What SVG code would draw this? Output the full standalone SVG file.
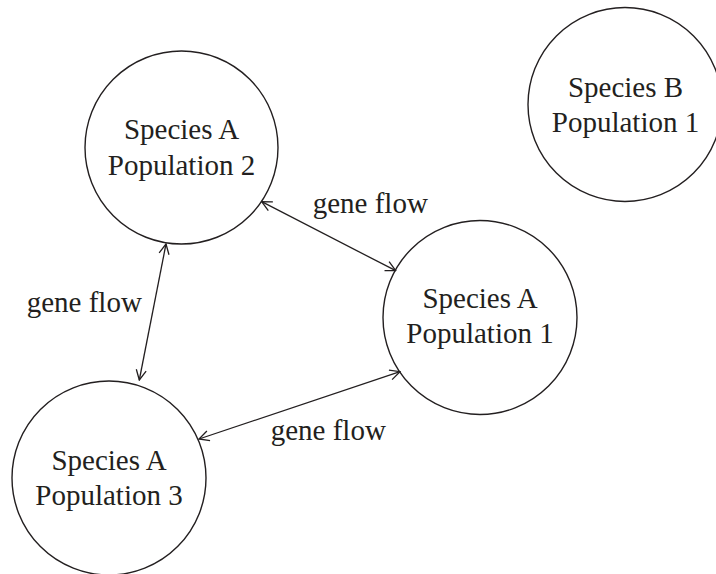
<svg xmlns="http://www.w3.org/2000/svg" width="716" height="574" viewBox="0 0 716 574">
<defs>
<style>
.node circle{fill:#fff;stroke:#231f20;stroke-width:1.4}
text{font-family:"Liberation Serif","Times New Roman",serif;font-size:29px;fill:#231f20}
.node text{text-anchor:middle}
.conn line{stroke:#231f20;stroke-width:1.3;marker-start:url(#ah);marker-end:url(#ah)}
</style>
<marker id="ah" viewBox="0 0 12 12" refX="11" refY="6" markerWidth="12" markerHeight="12" markerUnits="userSpaceOnUse" orient="auto-start-reverse">
<path d="M1,1 L11,6 L1,11" fill="none" stroke="#231f20" stroke-width="1.3"/>
</marker>
</defs>
<rect width="716" height="574" fill="#fff"/>
<g id="pop2" class="node">
<circle cx="181.5" cy="147.5" r="96.5"/>
<text x="181.5" y="139">Species A</text>
<text x="181.5" y="175">Population 2</text>
</g>
<g id="speciesB" class="node">
<circle cx="625" cy="104.5" r="97"/>
<text x="625.5" y="97">Species B</text>
<text x="625.5" y="132">Population 1</text>
</g>
<g id="pop1" class="node">
<circle cx="480" cy="317.5" r="97"/>
<text x="480" y="308">Species A</text>
<text x="480" y="343">Population 1</text>
</g>
<g id="pop3" class="node">
<circle cx="109" cy="478" r="97"/>
<text x="109" y="470">Species A</text>
<text x="109" y="505">Population 3</text>
</g>
<g id="connectors" class="conn">
<line x1="261.7" y1="201.7" x2="395.7" y2="270.7"/>
<line x1="166" y1="244" x2="139.3" y2="380"/>
<line x1="199" y1="439" x2="400" y2="371.7"/>
</g>
<g id="labels">
<text x="312.7" y="213">gene flow</text>
<text x="26.7" y="311.7">gene flow</text>
<text x="270.7" y="440">gene flow</text>
</g>
</svg>
